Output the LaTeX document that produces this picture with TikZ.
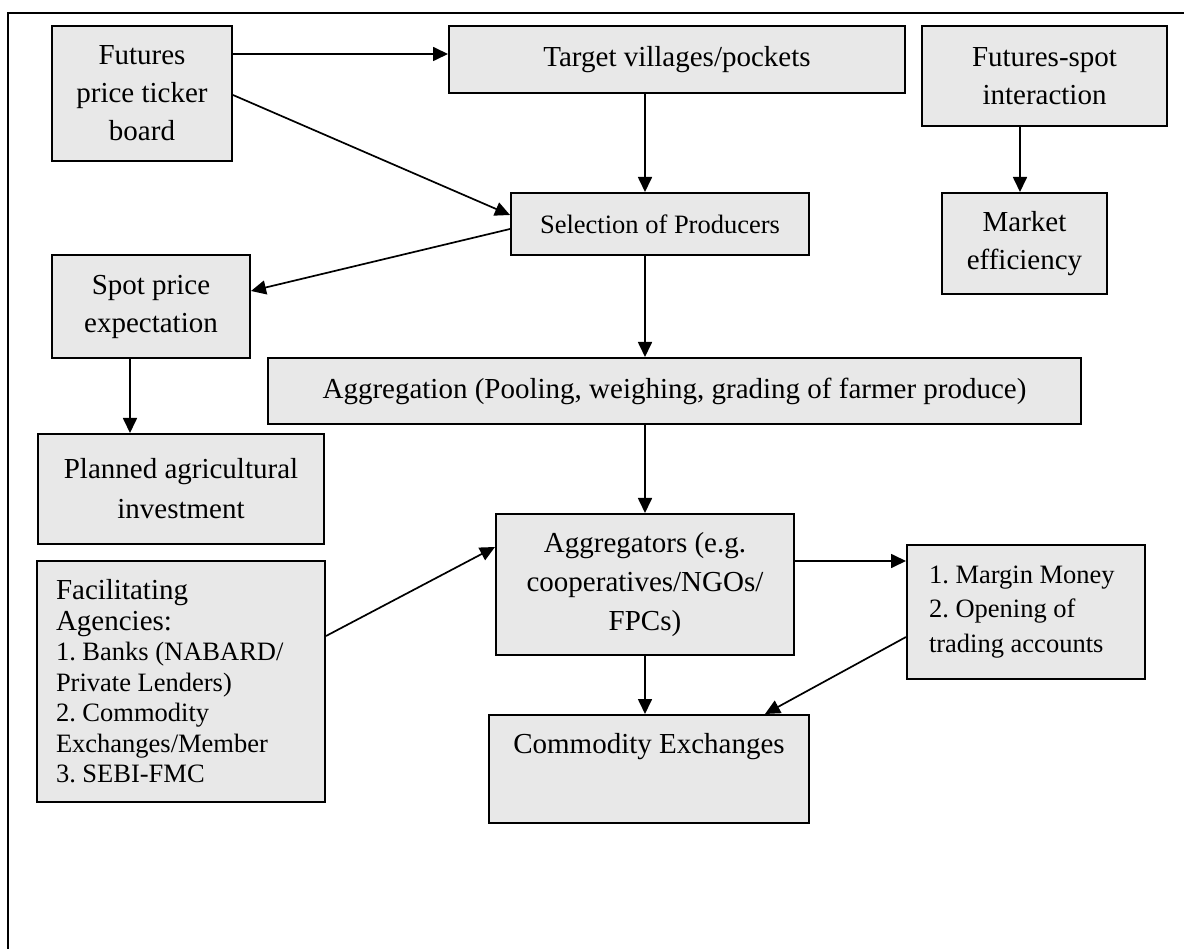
\documentclass[tikz,border=0pt]{standalone}
\usepackage{fontspec}
\setmainfont{Liberation Serif}
\usetikzlibrary{arrows.meta}
\definecolor{boxfill}{RGB}{232,232,232}
\begin{document}
\frenchspacing
\begin{tikzpicture}[x=1pt,y=-1pt,
  box/.style={draw=black, line width=2pt, fill=boxfill, inner sep=0pt, align=center, font=\frenchspacing\fontsize{29}{38}\selectfont},
  arr/.style={line width=1.7pt, -{Triangle[length=15pt,width=14pt]}},
  frameline/.style={line width=1.8pt}]
\useasboundingbox (0,0) rectangle (1184,949);
\draw[frameline] (8,949) -- (8,13) -- (1184,13);

\node[box, minimum width=180pt, minimum height=135pt] (fut) at (142,93.5) {Futures\\price ticker\\board};
\node[box, minimum width=456pt, minimum height=67pt] (tv) at (677,59.5) {Target villages/pockets};
\node[box, minimum width=245pt, minimum height=100pt] (fs) at (1044.5,76) {Futures-spot\\interaction};
\node[box, minimum width=298pt, minimum height=62pt, font=\frenchspacing\fontsize{26.5}{32}\selectfont] (sel) at (660,224) {Selection of Producers};
\node[box, minimum width=165pt, minimum height=101pt] (me) at (1024.5,243.5) {Market\\efficiency};
\node[box, minimum width=198pt, minimum height=103pt] (spot) at (151,306.5) {Spot price\\expectation};
\node[box, minimum width=813pt, minimum height=66pt] (agg) at (674.5,391) {Aggregation (Pooling, weighing, grading of farmer produce)};
\node[box, minimum width=286pt, minimum height=110pt, font=\frenchspacing\fontsize{29}{40}\selectfont] (plan) at (181,489) {Planned agricultural\\investment};
\node[box, text width=250pt, inner xsep=19pt, minimum height=241pt, align=flush left, font=\frenchspacing\fontsize{29}{30.5}\selectfont] (fac) at (181,681.5) {Facilitating\\Agencies:\\\fontsize{26.5}{30.5}\selectfont 1. Banks (NABARD/\\Private Lenders)\\2. Commodity\\Exchanges/Member\\3. SEBI-FMC};
\node[box, minimum width=298pt, minimum height=141pt, font=\frenchspacing\fontsize{29}{39}\selectfont] (aggs) at (645,584.5) {Aggregators (e.g.\\cooperatives/NGOs/\\FPCs)};
\node[box, text width=210pt, inner xsep=14pt, minimum height=134pt, align=flush left, font=\frenchspacing\fontsize{26.5}{34.5}\selectfont] (mm) at (1026,612) {\hspace*{8pt}1. Margin Money\\\hspace*{8pt}2. Opening of\\\hspace*{8pt}trading accounts};
\node[box, minimum width=320pt, text height=38pt, text depth=70pt] (comm) at (649,769) {Commodity Exchanges};

\coordinate (c1) at (645,0);
\coordinate (c2) at (1020,0);
\coordinate (c3) at (130,0);

\draw[arr] ([yshift=-29pt]fut.north east) -- ([yshift=-29pt]tv.north west);
\draw[arr] ([yshift=-70pt]fut.north east) -- ([yshift=-23pt]sel.north west);
\draw[arr] (tv.south -| c1) -- (sel.north -| c1);
\draw[arr] (fs.south -| c2) -- (me.north -| c2);
\draw[arr] ([yshift=-37pt]sel.north west) -- ([yshift=-37pt]spot.north east);
\draw[arr] (sel.south -| c1) -- (agg.north -| c1);
\draw[arr] (spot.south -| c3) -- (plan.north -| c3);
\draw[arr] (agg.south -| c1) -- (aggs.north -| c1);
\draw[arr] ([yshift=-76pt]fac.north east) -- ([yshift=-34pt]aggs.north west);
\draw[arr] ([yshift=-48pt]aggs.north east) -- ([yshift=-17pt]mm.north west);
\draw[arr] (aggs.south -| c1) -- (comm.north -| c1);
\draw[arr] ([yshift=-93pt]mm.north west) -- ([xshift=116pt]comm.north);
\end{tikzpicture}
\end{document}
